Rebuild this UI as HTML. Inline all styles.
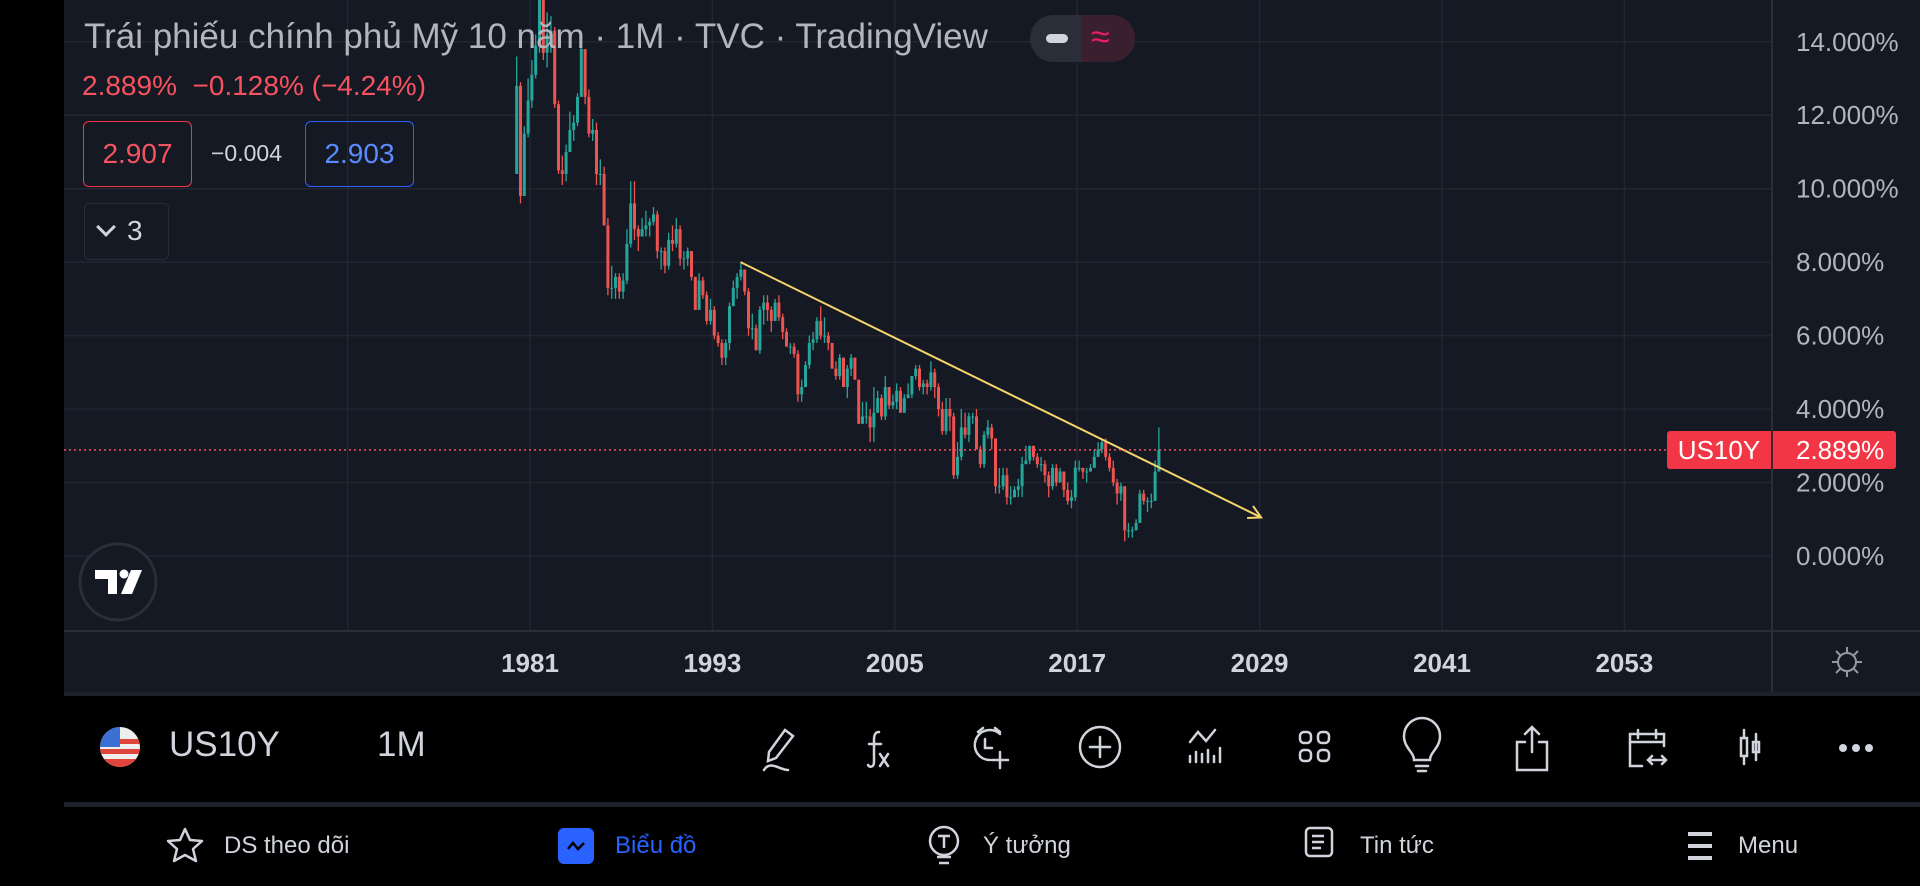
<!DOCTYPE html>
<html><head><meta charset="utf-8">
<style>
*{margin:0;padding:0;box-sizing:border-box}
body{width:1920px;height:886px;background:#000;overflow:hidden;font-family:"Liberation Sans","Noto Sans CJK SC",sans-serif;position:relative}
.abs{position:absolute}
.txt{white-space:nowrap}
</style></head><body>
<svg class="abs" style="left:0;top:0" width="1920" height="886">
 <rect x="64" y="0" width="1856" height="692" fill="#151924"/>
 <g id="grid"></g>
 <line x1="1772" y1="0" x2="1772" y2="692" stroke="#2a2e39" stroke-width="2"/>
 <line x1="64" y1="631" x2="1920" y2="631" stroke="#2a2e39" stroke-width="2"/>
 <g id="candles"></g>
 <g id="trend"></g>
 <g id="yticks"></g>
 <g id="xticks"></g>
 <line id="curline" x1="64" x2="1772" stroke="#f7525f" stroke-width="1.5" stroke-dasharray="2,3"/>
 <g>
  <rect x="1667" y="431" width="229" height="38" rx="3" fill="#f23645"/>
  <line x1="1772" y1="431" x2="1772" y2="469" stroke="#151924" stroke-width="1.5"/>
  <text x="1719" y="459" fill="#fff" font-size="26" text-anchor="middle" font-family="Liberation Sans">US10Y</text>
  <text id="curlabel" x="1796" y="459" fill="#fff" font-size="26" font-family="Liberation Sans">2.889%</text>
 </g>
 <g stroke="#9598a1" stroke-width="2" fill="none">
  <circle cx="1847" cy="662" r="9"/>
  <path d="M1847 647v5M1847 672v5M1832 662h5M1857 662h5M1836 651l4 4M1854 669l4 4M1836 673l4-4M1854 655l4-4"/>
 </g>
 <g>
  <circle cx="118" cy="582" r="38" fill="#151924" stroke="#2a2e39" stroke-width="3"/>
  <path d="M95 570h22v24h-9v-15h-13z" fill="#fff"/><circle cx="124" cy="574" r="4.5" fill="#fff"/><path d="M131 570h11l-10 24h-11z" fill="#fff"/>
 </g>
</svg>

<div class="abs txt" style="left:84px;top:17px;font-size:35px;color:#b2b5be">Trái phiếu chính phủ Mỹ 10 năm · 1M · TVC · TradingView</div>
<div class="abs" style="left:1030px;top:15px;width:105px;height:47px;border-radius:24px;background:#2a2e39;overflow:hidden">
 <div class="abs" style="left:16px;top:19px;width:22px;height:9px;border-radius:5px;background:#d1d4dc"></div>
 <div class="abs" style="left:52px;top:0;width:53px;height:47px;background:#3a1f2e"></div>
 <div class="abs txt" style="left:61px;top:3px;font-size:34px;color:#e91e63">≈</div>
</div>
<div class="abs txt" style="left:82px;top:70px;font-size:28px;color:#f7525f">2.889%&nbsp; −0.128% (−4.24%)</div>
<div class="abs txt" style="left:83px;top:121px;width:109px;height:66px;border:1.5px solid #f23645;border-radius:6px;color:#f7525f;font-size:28px;text-align:center;line-height:63px">2.907</div>
<div class="abs txt" style="left:211px;top:140px;font-size:23px;color:#d1d4dc">−0.004</div>
<div class="abs txt" style="left:305px;top:121px;width:109px;height:66px;border:1.5px solid #2962ff;border-radius:6px;color:#5b8cff;font-size:28px;text-align:center;line-height:63px">2.903</div>
<div class="abs txt" style="left:84px;top:203px;width:85px;height:57px;border:1.5px solid #2a2e39;border-radius:5px;color:#d1d4dc;font-size:28px;line-height:54px;padding-left:14px"><span style="display:inline-block;width:14px;height:14px;border-right:3px solid #d1d4dc;border-bottom:3px solid #d1d4dc;transform:rotate(45deg);margin-right:14px;position:relative;top:-6px"></span>3</div>

<div class="abs" style="left:64px;top:692px;width:1856px;height:4px;background:#1e222d"></div>
<div class="abs" style="left:64px;top:802px;width:1856px;height:5px;background:#1e222d"></div>

<svg class="abs" style="left:0;top:692px" width="1920" height="194">
 <g><clipPath id="fc"><circle cx="120" cy="55" r="20"/></clipPath><g clip-path="url(#fc)"><rect x="100" y="35" width="40" height="40" fill="#eee"/><rect x="100" y="47" width="40" height="5" fill="#e0453c"/><rect x="100" y="57" width="40" height="5" fill="#e0453c"/><rect x="100" y="67" width="40" height="8" fill="#e0453c"/><rect x="100" y="35" width="20" height="20" fill="#3b6fd1"/></g></g>
 <g stroke="#d1d4dc" stroke-width="2.5" fill="none" stroke-linecap="round">
  <path d="M785 38l8 6-17 22-8 3 1-9z M764 78c6-10 16 0 24 0"/>
  <path d="M879 40c-4 0-5 3-5 8v22c0 5-4 6-6 3M869 52h12M880 62l8 12M888 62l-8 12"/>
  <g><path d="M1000 42a15 15 0 1 0-10 26"/><path d="M985 47v9h7M1000 60v16M992 68h16M978 40l5-4M1000 40l-5-4"/></g>
  <g><circle cx="1100" cy="55" r="20"/><path d="M1100 45v20M1090 55h20"/></g>
  <g><path d="M1190 50l8-10 8 9 9-11M1190 70v-6M1196 70v-10M1202 70v-8M1208 70v-12M1214 70v-6M1220 70v-14"/></g>
  <g><rect x="1300" y="40" width="11" height="11" rx="4"/><rect x="1318" y="40" width="11" height="11" rx="4"/><rect x="1300" y="58" width="11" height="11" rx="4"/><rect x="1318" y="58" width="11" height="11" rx="4"/></g>
  <g><path d="M1414 68c0-8-10-12-10-24a18 18 0 0 1 36 0c0 12-10 16-10 24zM1416 74h12M1418 79h8"/></g>
  <g><path d="M1525 50h-8v28h30v-28h-8M1532 60v-25M1525 42l7-7 7 7"/></g>
  <g><path d="M1642 74h-12v-32h34v12M1630 50h34M1638 38v8M1656 38v8M1648 68h18M1652 64l-4 4 4 4M1662 64l4 4-4 4"/></g>
  <g><rect x="1741" y="46" width="6" height="18"/><path d="M1744 38v8M1744 64v8M1756 42v26"/><rect x="1753" y="50" width="6" height="10"/></g>
 </g>
 <g fill="#d1d4dc"><circle cx="1843" cy="56" r="4"/><circle cx="1856" cy="56" r="4"/><circle cx="1869" cy="56" r="4"/></g>
 <g stroke="#d1d4dc" stroke-width="2.5" fill="none" stroke-linejoin="round">
  <path d="M185 137l5 11 12 1-9 8 3 12-11-6-11 6 3-12-9-8 12-1z"/>
  <g><circle cx="944" cy="149" r="14"/><path d="M937 165h14M939 171h10M938 144h12M944 144v12"/></g>
  <g><rect x="1306" y="136" width="26" height="28" rx="4"/><path d="M1312 144h12M1312 150h12M1312 156h9"/></g>
  <path d="M1688 142h24M1688 154h24M1688 166h24" stroke-width="4"/>
 </g>
 <g><rect x="558" y="136" width="36" height="36" rx="6" fill="#2962ff"/><path d="M568 157l5-6 5 6 6-6" stroke="#000" stroke-width="2.5" fill="none"/></g>
</svg>
<div class="abs txt" style="left:169px;top:725px;font-size:35px;color:#d1d4dc">US10Y</div>
<div class="abs txt" style="left:377px;top:725px;font-size:35px;color:#d1d4dc">1M</div>
<div class="abs txt" style="left:224px;top:832px;font-size:24px;color:#d1d4dc">DS theo dõi</div>
<div class="abs txt" style="left:615px;top:832px;font-size:24px;color:#2962ff">Biểu đồ</div>
<div class="abs txt" style="left:983px;top:832px;font-size:24px;color:#d1d4dc">Ý tưởng</div>
<div class="abs txt" style="left:1360px;top:832px;font-size:24px;color:#d1d4dc">Tin tức</div>
<div class="abs txt" style="left:1738px;top:832px;font-size:24px;color:#d1d4dc">Menu</div>

<script>
const startYear = 1980;
const firstOpen = 10.4;
// quarterly closes, 1980Q1 .. 2022Q2 (%)
const closes = [
12.8,9.8,11.5,12.4, 13.1,13.9,15.8,13.7, 14.2,14.3,12.3,10.5, 10.4,11.0,11.6,11.8,
12.5,13.8,12.5,11.5, 11.6,10.4,10.4,9.0, 7.3,7.3,7.6,7.2, 7.5,8.5,9.6,8.9,
8.7,8.9,9.0,9.1, 9.3,8.3,8.3,7.9, 8.6,8.5,8.9,8.1, 8.1,8.3,7.6,6.7,
7.5,7.1,6.4,6.7, 6.0,5.8,5.4,5.8, 6.8,7.3,7.6,7.8, 7.2,6.2,6.2,5.6,
6.7,6.9,6.7,6.4, 6.9,6.5,6.1,5.7, 5.7,5.5,4.4,4.6, 5.2,5.8,5.9,6.4,
6.0,6.0,5.8,5.1, 4.9,5.4,4.6,5.1, 5.4,4.8,3.6,3.8, 3.8,3.5,3.9,4.3,
3.8,4.6,4.1,4.2, 4.5,3.9,4.3,4.4, 4.9,5.1,4.6,4.7, 4.6,5.0,4.6,4.0,
3.4,4.0,3.8,2.2, 2.7,3.5,3.3,3.8, 3.8,2.9,2.5,3.3, 3.5,3.2,1.9,1.9,
2.2,1.6,1.6,1.8, 1.9,2.5,2.6,3.0, 2.7,2.5,2.5,2.2, 1.9,2.4,2.0,2.3,
1.8,1.5,1.6,2.4, 2.4,2.3,2.3,2.4, 2.7,2.9,3.1,2.7, 2.4,2.0,1.7,1.9,
0.7,0.7,0.7,0.9, 1.7,1.5,1.5,1.5, 2.3,2.889];
const highs = [
13.6,12.9,11.7,13.0, 13.5,14.2,15.8,15.6, 14.8,14.7,14.4,12.4, 10.9,11.2,12.1,12.0,
12.6,13.9,13.6,12.7, 11.9,11.8,10.8,10.6, 9.2,7.9,7.7,7.7, 7.7,8.9,10.2,10.2,
9.0,9.2,9.4,9.2, 9.5,9.4,8.4,8.4, 8.8,9.0,9.2,9.0, 8.3,8.4,8.3,7.6,
7.7,7.6,7.2,7.0, 6.8,6.1,5.9,5.9, 6.9,7.5,7.7,8.0, 7.8,7.3,6.6,6.3,
6.8,7.1,7.1,6.8, 7.0,7.1,6.6,6.2, 5.8,5.8,5.6,4.8, 5.3,6.0,6.1,6.5,
6.8,6.5,6.1,5.8, 5.3,5.5,5.4,5.2, 5.5,5.4,4.8,4.2, 4.2,4.0,4.6,4.5,
4.4,4.9,4.6,4.4, 4.7,4.6,4.4,4.7, 4.9,5.2,5.2,4.8, 4.8,5.3,5.1,4.7,
4.2,4.3,4.3,3.9, 3.1,4.0,3.9,3.9, 3.9,4.0,3.0,3.4, 3.7,3.6,3.2,2.4,
2.4,2.4,1.9,1.9, 2.1,2.7,3.0,3.0, 3.0,2.8,2.7,2.6, 2.3,2.5,2.5,2.4,
2.3,2.0,1.8,2.6, 2.6,2.4,2.4,2.5, 2.9,3.1,3.2,3.2, 2.8,2.6,2.1,2.0,
1.9,0.9,0.8,1.0, 1.8,1.8,1.6,1.7, 2.6,3.5];
const lows = [
10.4,9.6,9.8,11.4, 12.2,13.0,13.7,13.5, 13.3,13.7,12.2,10.4, 10.1,10.2,11.0,11.3,
11.7,12.5,12.3,11.4, 11.3,10.1,10.1,9.0, 7.1,7.0,7.0,7.0, 7.0,7.4,8.4,8.6,
8.3,8.7,8.7,8.7, 9.0,8.1,7.8,7.7, 7.8,8.3,8.4,7.9, 7.8,7.9,7.5,6.7,
6.9,7.0,6.3,6.3, 5.9,5.7,5.2,5.2, 5.6,6.9,7.0,7.5, 7.1,6.0,5.9,5.6,
5.5,6.3,6.4,6.1, 6.4,6.4,5.9,5.7, 5.5,5.4,4.2,4.2, 4.6,5.1,5.6,5.8,
5.9,5.8,5.6,5.1, 4.8,4.8,4.6,4.3, 4.9,4.8,3.6,3.6, 3.6,3.1,3.1,3.9,
3.7,3.7,4.0,4.0, 4.0,3.9,3.9,4.3, 4.3,4.8,4.5,4.4, 4.4,4.5,4.3,3.8,
3.3,3.3,3.4,2.1, 2.1,2.6,3.2,3.1, 3.6,2.9,2.4,2.4, 3.2,2.9,1.7,1.7,
1.8,1.4,1.4,1.6, 1.6,1.6,2.5,2.5, 2.6,2.4,2.3,2.0, 1.6,1.8,1.9,2.0,
1.6,1.4,1.3,1.5, 2.3,2.1,2.0,2.3, 2.4,2.7,2.8,2.6, 2.3,1.9,1.4,1.5,
0.4,0.5,0.5,0.7, 0.9,1.4,1.2,1.3, 1.6,2.3];
const yTicks = [0,2,4,6,8,10,12,14];
const yTickLabels = ["0.000%","2.000%","4.000%","6.000%","8.000%","10.000%","12.000%","14.000%"];
const xTicks = [1981,1993,2005,2017,2029,2041,2053];
const xGridExtra = [1969];
const trendStart = [1994.85, 8.0];
const trendEnd = [2029.1, 1.05];
const currentPrice = 2.889;

const NS='http://www.w3.org/2000/svg';
function X(yr){return 530+(yr-1981)*15.2;}
function Y(v){return 556-v*36.73;}
function mk(tag,attrs,parent){const e=document.createElementNS(NS,tag);for(const k in attrs)e.setAttribute(k,attrs[k]);parent.appendChild(e);return e;}

const grid=document.getElementById('grid');
yTicks.forEach((v,i)=>{
  const l=mk('line',{x1:64,x2:1772,y1:Y(v),y2:Y(v),stroke:'#222631','stroke-width':1.5},grid);
  
  
  const t=mk('text',{x:1796,y:Y(v)+9,fill:'#b2b5be','font-size':26,'font-family':'Liberation Sans'},document.getElementById('yticks'));
  t.textContent=yTickLabels[i];
  
  
});
xGridExtra.concat(xTicks).forEach(yr=>{
  const l=mk('line',{x1:X(yr),x2:X(yr),y1:0,y2:631,stroke:'#222631','stroke-width':1.5},grid);
  
  
});
xTicks.forEach(yr=>{
  const t=mk('text',{x:X(yr),y:672,fill:'#d1d4dc','font-size':26,'font-weight':'bold','text-anchor':'middle','font-family':'Liberation Sans'},document.getElementById('xticks'));
  t.textContent=yr;
  
  
});

const cg=document.getElementById('candles');
let prev=firstOpen;
closes.forEach((c,i)=>{
  const o=prev; prev=c;
  const t=startYear+i*0.25+0.125;
  const col=c>=o?'#26a69a':'#ef5350';
  const x=X(t);
  const w=mk('line',{x1:x,x2:x,y1:Y(highs[i]),y2:Y(lows[i]),stroke:col,'stroke-width':1.3},cg);
  
  
  const top=Y(Math.max(o,c)),bot=Y(Math.min(o,c));
  const b=mk('rect',{x:x-1.5,y:top,width:3,height:Math.max(1,bot-top),fill:col},cg);
  
  
});

const tg=document.getElementById('trend');
const x1=X(trendStart[0]),y1=Y(trendStart[1]),x2=X(trendEnd[0]),y2=Y(trendEnd[1]);
const tl=mk('line',{x1:x1,y1:y1,x2:x2,y2:y2,stroke:'#f5d46a','stroke-width':2},tg);


const ang=Math.atan2(y2-y1,x2-x1),L=14;
const ah=mk('path',{d:`M${x2-L*Math.cos(ang-0.5)} ${y2-L*Math.sin(ang-0.5)}L${x2} ${y2}L${x2-L*Math.cos(ang+0.5)} ${y2-L*Math.sin(ang+0.5)}`,stroke:'#f5d46a','stroke-width':2,fill:'none'},tg);



const cl=document.getElementById('curline');
cl.setAttribute('y1',Y(currentPrice));cl.setAttribute('y2',Y(currentPrice));
</script>
</body></html>
